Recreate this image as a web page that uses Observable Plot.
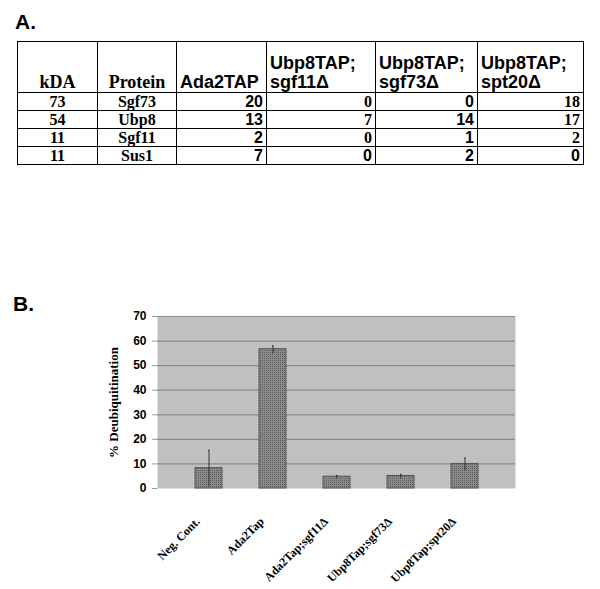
<!DOCTYPE html>
<html>
<head>
<meta charset="utf-8">
<script src="https://cdn.jsdelivr.net/npm/d3@7"></script>
<script src="https://cdn.jsdelivr.net/npm/@observablehq/plot@0.6"></script>
<style>
  html, body { margin: 0; padding: 0; background: #fff; }
  #page { position: relative; width: 600px; height: 589px; overflow: hidden; background: #fff; }
  .panel-label { position: absolute; font-family: "Liberation Sans", Arial, sans-serif; font-weight: bold; font-size: 21px; color: #000; }
  #tbl { position: absolute; left: 17px; top: 41px; border-collapse: collapse; table-layout: fixed; }
  #tbl td { border: 1.3px solid #000; padding: 0 3px; font-weight: bold; color: #000; overflow: hidden; white-space: pre-line; }
  #tbl tr.head td { height: 50px; vertical-align: bottom; line-height: 19px; padding-bottom: 0; }
  #tbl tr.row td { height: 17px; line-height: 17px; vertical-align: middle; }
  .serif { font-family: "Liberation Serif", "Times New Roman", serif; font-size: 18px; }
  .sans { font-family: "Liberation Sans", Arial, sans-serif; font-size: 18px; }
  .row .serif { font-size: 16px; transform-origin: center; }
  .row .sans { font-size: 16px; }
  #chart { position: absolute; left: 0; top: 300px; }
</style>
</head>
<body>
<div id="page">
  <div class="panel-label" style="left:15px; top:10px;">A.</div>
  <table id="tbl"></table>
  <div class="panel-label" style="left:13px; top:292px;">B.</div>
  <div id="chart"></div>
</div>
<script>
// ---------- Panel A data ----------
const tableHeaders = ["kDA", "Protein", "Ada2TAP", "Ubp8TAP;\nsgf11Δ", "Ubp8TAP;\nsgf73Δ", "Ubp8TAP;\nspt20Δ"];
const kDa = [73, 54, 11, 11];
const proteins = ["Sgf73", "Ubp8", "Sgf11", "Sus1"];
const ada2TAP = [20, 13, 2, 7];
const ubp8Sgf11 = [0, 7, 0, 0];
const ubp8Sgf73 = [0, 14, 1, 2];
const ubp8Spt20 = [18, 17, 2, 0];

// ---------- Panel B data ----------
const conditions = ["Neg. Cont.", "Ada2Tap", "Ada2Tap;sgf11Δ", "Ubp8Tap;sgf73Δ", "Ubp8Tap;spt20Δ"];
const deubiquitination = [8.3, 56.7, 4.8, 5.1, 10.0];
const errLow = [0.9, 55.2, 4.3, 4.4, 7.6];
const errHigh = [15.6, 58.1, 5.3, 5.8, 12.5];
const yTicks = [0, 10, 20, 30, 40, 50, 60, 70];
const yLabel = "% Deubiquitination";

// ---------- Build table ----------
const colWidths = [80, 79, 90, 109, 102, 106];
const tbl = document.getElementById("tbl");
const cg = document.createElement("colgroup");
colWidths.forEach(w => { const c = document.createElement("col"); c.style.width = w + "px"; cg.appendChild(c); });
tbl.appendChild(cg);
const headFonts = ["serif", "serif", "sans", "sans", "sans", "sans"];
const headAlign = ["center", "center", "left", "left", "left", "left"];
const hr = document.createElement("tr"); hr.className = "head";
tableHeaders.forEach((h, i) => {
  const td = document.createElement("td");
  td.className = headFonts[i];
  td.style.textAlign = headAlign[i];
  td.textContent = h;
  hr.appendChild(td);
});
tbl.appendChild(hr);
proteins.forEach((p, r) => {
  const tr = document.createElement("tr"); tr.className = "row";
  const last = r === proteins.length - 1;
  const cells = [
    [kDa[r], "serif", "center"],
    [p, "serif", "center"],
    [ada2TAP[r], "sans", "right"],
    [ubp8Sgf11[r], last ? "sans" : "serif", "right"],
    [ubp8Sgf73[r], "sans", "right"],
    [ubp8Spt20[r], last ? "sans" : "serif", "right"]
  ];
  cells.forEach(([v, f, a]) => {
    const td = document.createElement("td");
    td.className = f;
    td.style.textAlign = a;
    td.textContent = v;
    tr.appendChild(td);
  });
  tbl.appendChild(tr);
});

// ---------- Build chart ----------
const rows = conditions.map((c, i) => ({condition: c, value: deubiquitination[i], lo: errLow[i], hi: errHigh[i]}));

const chart = Plot.plot({
  width: 600,
  height: 289,
  marginLeft: 157,
  marginRight: 85,
  marginTop: 16,
  marginBottom: 101,
  style: {background: "transparent", overflow: "visible"},
  x: {domain: conditions, padding: 0.58, label: null},
  y: {domain: [0, 70], label: null},
  marks: [
    Plot.frame({fill: "#c0c0c0", stroke: null}),
    Plot.ruleY(yTicks.slice(1), {stroke: "#8c8c8c", strokeWidth: 1.2}),
    Plot.barY(rows, {x: "condition", y: "value", fill: "url(#dotfill)", stroke: "#555", strokeWidth: 1}),
    Plot.ruleX(rows, {x: "condition", y1: "lo", y2: "hi", stroke: "#333", strokeWidth: 1}),
    Plot.tickY(rows, {x: "condition", y: "lo", stroke: "#333", strokeWidth: 1, insetLeft: 13, insetRight: 13}),
    Plot.tickY(rows, {x: "condition", y: "hi", stroke: "#333", strokeWidth: 1, insetLeft: 13, insetRight: 13}),
    Plot.axisY({ticks: yTicks, tickSize: 5, tickPadding: 6, stroke: "#999", fontFamily: "Liberation Sans, Arial, sans-serif", fontWeight: "bold", fontSize: 12, fill: "#000"}),
    Plot.axisX({tickSize: 0, tickPadding: 31, dx: -11, tickRotate: -45, fontFamily: "Liberation Serif, Times New Roman, serif", fontWeight: "bold", fontSize: 12, fill: "#000"}),
    Plot.text([yLabel], {frameAnchor: "left", textAnchor: "middle", dx: -44, rotate: -90, text: d => d, fontFamily: "Liberation Serif, Times New Roman, serif", fontWeight: "bold", fontSize: 13, fill: "#000"})
  ]
});

// dotted texture for bars
const ns = "http://www.w3.org/2000/svg";
const defs = document.createElementNS(ns, "defs");
const pat = document.createElementNS(ns, "pattern");
pat.setAttribute("id", "dotfill");
pat.setAttribute("width", "2");
pat.setAttribute("height", "2");
pat.setAttribute("patternUnits", "userSpaceOnUse");
const bg = document.createElementNS(ns, "rect");
bg.setAttribute("width", "2"); bg.setAttribute("height", "2"); bg.setAttribute("fill", "#8a8a8a");
const dot = document.createElementNS(ns, "rect");
dot.setAttribute("width", "1"); dot.setAttribute("height", "1"); dot.setAttribute("fill", "#5e5e5e");
pat.appendChild(bg); pat.appendChild(dot);
defs.appendChild(pat);
chart.insertBefore(defs, chart.firstChild);

document.getElementById("chart").appendChild(chart);
</script>
</body>
</html>
